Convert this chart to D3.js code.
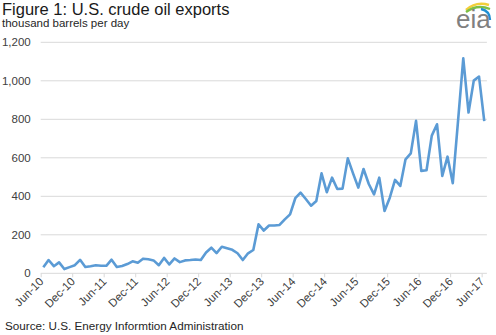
<!DOCTYPE html>
<html>
<head>
<meta charset="utf-8">
<script src="https://cdn.jsdelivr.net/npm/d3@7"></script>
<style>
  html, body { margin: 0; padding: 0; background: #fff; }
  svg { display: block; }
  text { font-family: "Liberation Sans", Arial, sans-serif; }
</style>
</head>
<body>
<svg id="chart" width="496" height="335"></svg>
<script>
// ---- Data (thousand barrels per day), monthly Jun-2010 .. Jun-2017 ----
const startMonth = "2010-06";
const exportsValues = [
  31, 69, 37, 57, 22, 32, 42, 70, 33, 37, 42, 39,
  39, 71, 33, 38, 48, 62, 55, 76, 73, 67, 42, 80,
  46, 77, 58, 67, 69, 72, 69, 108, 133, 105, 138, 130,
  122, 104, 69, 104, 121, 255, 222, 248, 248, 251, 280, 306,
  390, 419, 386, 351, 376, 519, 421, 497, 438, 440, 597, 519,
  445, 542, 464, 410, 497, 324, 393, 485, 454, 592, 623, 792,
  532, 535, 715, 774, 506, 606, 468, 790, 1117, 835, 1001, 1022,
  791
];
const xTickLabels = ["Jun-10","Dec-10","Jun-11","Dec-11","Jun-12","Dec-12","Jun-13",
  "Dec-13","Jun-14","Dec-14","Jun-15","Dec-15","Jun-16","Dec-16","Jun-17"];
const yTicks = [0, 200, 400, 600, 800, 1000, 1200];
const titleText = "Figure 1: U.S. crude oil exports";
const unitText = "thousand barrels per day";
const sourceText = "Source: U.S. Energy Informtion Administration";

// ---- Layout ----
const svg = d3.select("#chart");
const plot = { left: 40.7, right: 486.9, top: 42.3, bottom: 273.3 };
const nMonths = exportsValues.length;

const x = d3.scaleLinear().domain([0, nMonths]).range([plot.left, plot.right]);
const y = d3.scaleLinear().domain([0, 1200]).range([plot.bottom, plot.top]);

// Titles
svg.append("text").attr("x", 2).attr("y", 14.5)
  .attr("font-size", 16.5).attr("fill", "#1a1a1a").text(titleText);
svg.append("text").attr("x", 2).attr("y", 27)
  .attr("font-size", 11.5).attr("fill", "#262626").text(unitText);

// Gridlines
svg.append("g").selectAll("line").data(yTicks.filter(d => d > 0)).join("line")
  .attr("x1", plot.left).attr("x2", plot.right)
  .attr("y1", d => y(d)).attr("y2", d => y(d))
  .attr("stroke", "#d9d9d9").attr("stroke-width", 1);

// Y axis labels
const yAxis = d3.axisLeft(y).tickValues(yTicks).tickSize(0).tickPadding(10)
  .tickFormat(d3.format(","));
const gy = svg.append("g").attr("transform", `translate(${plot.left},0)`).call(yAxis);
gy.select(".domain").remove();
gy.selectAll("text").attr("font-size", 11.5).attr("fill", "#404040")
  .attr("font-family", "Liberation Sans, Arial, sans-serif");

// X axis: ticks every 6 months at month boundaries
const tickIdx = xTickLabels.map((_, i) => i * 6);
const xAxis = d3.axisBottom(x).tickValues(tickIdx).tickSize(4).tickFormat((d, i) => xTickLabels[i]);
const gx = svg.append("g").attr("transform", `translate(0,${plot.bottom})`).call(xAxis);
gx.select(".domain").attr("stroke", "#d9d9d9").attr("d", `M${plot.left},0H${plot.right}`);
gx.selectAll(".tick line").attr("stroke", "#d9d9d9");
gx.selectAll("text")
  .attr("font-size", 11.5).attr("fill", "#404040")
  .attr("font-family", "Liberation Sans, Arial, sans-serif")
  .attr("text-anchor", "end")
  .attr("dy", null).attr("y", null)
  .attr("transform", "translate(3,9) rotate(-45)");

// Line
const line = d3.line().x((d, i) => x(i + 0.5)).y(d => y(d));
svg.append("path").datum(exportsValues)
  .attr("fill", "none").attr("stroke", "#5B9BD5").attr("stroke-width", 2.6)
  .attr("stroke-linejoin", "round").attr("d", line);

// Source
svg.append("text").attr("x", 5).attr("y", 329.5)
  .attr("font-size", 11.7).attr("fill", "#262626").text(sourceText);

// EIA logo
const logo = svg.append("g");
logo.append("path").attr("d", "M466,10 Q476,1 489,5").attr("fill", "none")
  .attr("stroke", "#f2cf3a").attr("stroke-width", 2.4);
logo.append("path").attr("d", "M466,12 Q477,4 490,9").attr("fill", "none")
  .attr("stroke", "#7dbf45").attr("stroke-width", 2.4);
logo.append("path").attr("d", "M481,9 Q490,11 490,20").attr("fill", "none")
  .attr("stroke", "#1f8fd3").attr("stroke-width", 2.4);
logo.append("text").attr("x", 456).attr("y", 28)
  .attr("font-family", "Liberation Serif, Times New Roman, serif")
  .attr("font-size", 26).attr("fill", "#808080").text("eia");
</script>
</body>
</html>
